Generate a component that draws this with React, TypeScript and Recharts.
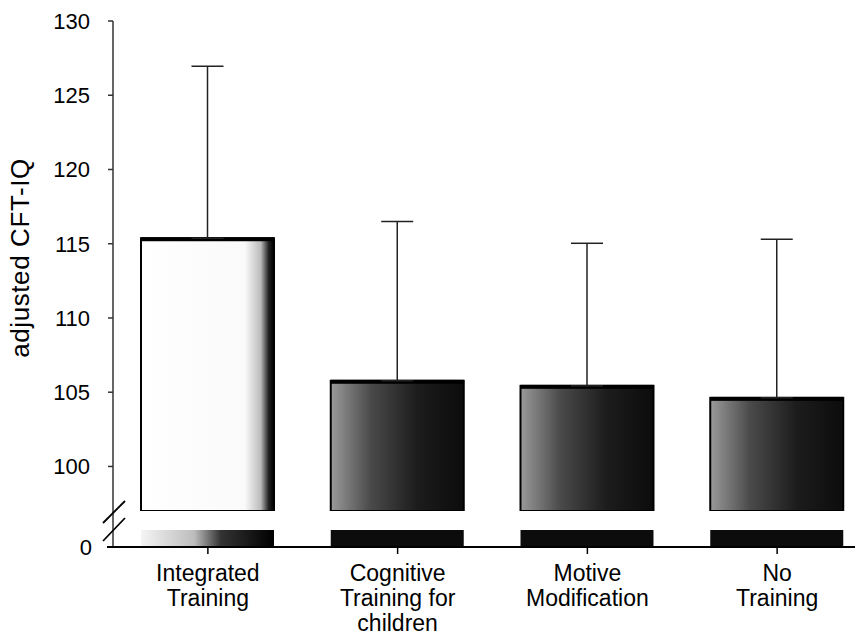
import React from "react";
import { BarChart, Bar, XAxis, YAxis, ErrorBar, Cell } from "recharts";

// ---- data ----
const categories = [
  "Integrated\nTraining",
  "Cognitive\nTraining for\nchildren",
  "Motive\nModification",
  "No\nTraining",
];
const meanIQ = [115.37, 105.77, 105.43, 104.62];
const upperIQ = [126.95, 116.5, 115.03, 115.3];
const upperTicks = [100, 105, 110, 115, 120, 125, 130];
const lowerTicks = [0];

const data = categories.map((name, i) => ({
  name,
  value: meanIQ[i],
  err: [0, upperIQ[i] - meanIQ[i]],
}));

const FONT = "'Liberation Sans', Arial, Helvetica, sans-serif";
const CHART_W = 872;
const AXIS_W = 113;

const TopBarShape = (props: any) => {
  const { x, y, width, height, fill } = props;
  if (height <= 0) return null;
  return (
    <g>
      <rect x={x} y={y} width={width} height={height} fill={fill} stroke="#000" strokeWidth={2} />
      <rect x={x} y={y - 1} width={width} height={4} fill="#000" />
    </g>
  );
};

const XTick = (props: any) => {
  const { x, y, payload } = props;
  const lines = String(payload.value).split("\n");
  return (
    <g transform={`translate(${x},${y})`}>
      <text textAnchor="middle" fontFamily={FONT} fontSize={23} fill="#000">
        {lines.map((l, i) => (
          <tspan key={i} x={0} y={25 + i * 25}>
            {l}
          </tspan>
        ))}
      </text>
    </g>
  );
};

const YLabel = (props: any) => {
  const vb = props.viewBox || { x: 0, y: 21, width: 113, height: 490 };
  const cx = 20;
  const cy = vb.y + vb.height / 2 - 8;
  return (
    <text
      x={cx}
      y={cy}
      transform={`rotate(-90, ${cx}, ${cy})`}
      textAnchor="middle"
      dominantBaseline="central"
      fontFamily={FONT}
      fontSize={26}
      letterSpacing={0.6}
      fill="#000"
    >
      adjusted CFT-IQ
    </text>
  );
};

export default function App() {
  return (
    <div style={{ position: "relative", width: 863, height: 641, margin: -8, overflow: "hidden", background: "#fff" }}>
      {/* upper part of broken axis */}
      <div style={{ position: "absolute", left: 0, top: 0 }}>
        <BarChart
          width={CHART_W}
          height={520}
          data={data}
          margin={{ top: 21, right: 0, left: 0, bottom: 9 }}
          barSize={133}
        >
          <defs>
            <linearGradient id="gTop0" x1="0" y1="0" x2="1" y2="0">
              <stop offset="0%" stopColor="#ffffff" />
              <stop offset="78%" stopColor="#fafafa" />
              <stop offset="90%" stopColor="#bbbbbb" />
              <stop offset="96%" stopColor="#222222" />
              <stop offset="100%" stopColor="#000000" />
            </linearGradient>
            <linearGradient id="gTopD" x1="0" y1="0" x2="1" y2="0">
              <stop offset="0%" stopColor="#9a9a9a" />
              <stop offset="30%" stopColor="#4a4a4a" />
              <stop offset="65%" stopColor="#1c1c1c" />
              <stop offset="100%" stopColor="#0c0c0c" />
            </linearGradient>
          </defs>
          <XAxis dataKey="name" hide />
          <YAxis
            domain={[97, 130]}
            ticks={upperTicks}
            allowDataOverflow
            width={AXIS_W}
            tickSize={5}
            tickMargin={18}
            axisLine={{ stroke: "#333", strokeWidth: 1.5 }}
            tickLine={{ stroke: "#333", strokeWidth: 1.5 }}
            tick={{ fontFamily: FONT, fontSize: 22, fill: "#000" }}
            label={<YLabel />}
          />
          <Bar dataKey="value" isAnimationActive={false} shape={<TopBarShape />}>
            {data.map((d, i) => (
              <Cell key={i} fill={i === 0 ? "url(#gTop0)" : "url(#gTopD)"} />
            ))}
            <ErrorBar dataKey="err" direction="y" width={16} stroke="#222" strokeWidth={1.5} isAnimationActive={false} />
          </Bar>
        </BarChart>
      </div>

      {/* lower part of broken axis */}
      <div style={{ position: "absolute", left: 0, top: 500 }}>
        <BarChart
          width={CHART_W}
          height={141}
          data={data}
          margin={{ top: 30, right: 0, left: 0, bottom: 0 }}
          barSize={133}
        >
          <defs>
            <linearGradient id="gBot0" x1="0" y1="0" x2="1" y2="0">
              <stop offset="0%" stopColor="#f4f4f4" />
              <stop offset="40%" stopColor="#bdbdbd" />
              <stop offset="60%" stopColor="#333333" />
              <stop offset="100%" stopColor="#000000" />
            </linearGradient>
          </defs>
          <XAxis
            dataKey="name"
            height={94}
            tickSize={7}
            interval={0}
            axisLine={{ stroke: "#000", strokeWidth: 2 }}
            tickLine={{ stroke: "#000", strokeWidth: 1.5 }}
            tick={<XTick />}
          />
          <YAxis
            domain={[0, 1]}
            ticks={lowerTicks}
            allowDataOverflow
            width={AXIS_W}
            tickSize={5}
            tickMargin={16}
            axisLine={{ stroke: "#333", strokeWidth: 1.5 }}
            tickLine={{ stroke: "#333", strokeWidth: 1.5 }}
            tick={{ fontFamily: FONT, fontSize: 22, fill: "#000" }}
          />
          <Bar dataKey="value" isAnimationActive={false}>
            {data.map((d, i) => (
              <Cell key={i} fill={i === 0 ? "url(#gBot0)" : "#0c0c0c"} />
            ))}
          </Bar>
        </BarChart>
      </div>

      {/* axis break marks and axis-line extensions */}
      <svg width={863} height={641} style={{ position: "absolute", left: 0, top: 0, pointerEvents: "none" }}>
        <line x1={113} y1={511} x2={113} y2={531} stroke="#333" strokeWidth={1.5} />
        <line x1={107} y1={547} x2={114} y2={547} stroke="#000" strokeWidth={2} />
        <line x1={840} y1={547} x2={863} y2={547} stroke="#000" strokeWidth={2} />
        <line x1={103} y1={523} x2={125} y2={501} stroke="#000" strokeWidth={1.8} />
        <line x1={103} y1={541} x2={125} y2={518} stroke="#000" strokeWidth={1.8} />
      </svg>
    </div>
  );
}
